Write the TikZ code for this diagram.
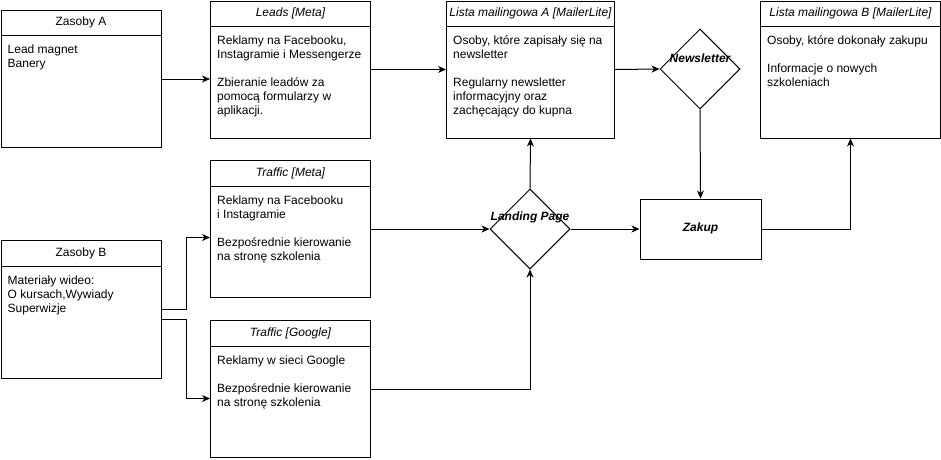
\documentclass[tikz,border=0pt]{standalone}
\usepackage{fontspec}
\setmainfont{Liberation Sans}
\usetikzlibrary{arrows.meta,shapes.geometric,calc}
\tikzset{
  boxframe/.style={draw, line width=1pt, inner sep=0pt, anchor=north west},
  bodytext/.style={anchor=north west, align=left, inner sep=0pt, font=\fontsize{12}{14}\selectfont},
  headtext/.style={anchor=center, inner sep=0pt, font=\fontsize{12}{14}\selectfont},
  dia/.style={draw, line width=1pt, shape=diamond, minimum width=80pt, minimum height=80pt, inner sep=0pt, aspect=1},
  diatext/.style={inner sep=0pt, font=\fontsize{12}{14}\selectfont\bfseries\itshape},
  conn/.style={line width=1pt, -{Stealth[length=8pt,width=7pt,inset=2.5pt]}},
}
\newcommand\swbox[8]{%
  \node[boxframe, minimum width=#4pt, minimum height=#5pt] (#1) at (#2,#3) {};
  \draw[line width=1pt] ([yshift=-#6pt]#1.north west) -- ([yshift=-#6pt]#1.north east);
  \node[headtext] (#1-t) at ([yshift={-0.5*#6pt}]#1.north) {#7};
  \node[bodytext] (#1-b) at ([xshift=7pt,yshift={-(#6pt+8pt)}]#1.north west) {\strut #8};
}
\begin{document}
\begin{tikzpicture}[x=1pt,y=-1pt]
\fill[white] (0,0) rectangle (941,459);
\useasboundingbox (0,0) rectangle (941,459);

\swbox{za}{0.5}{10}{160}{137}{25}{Zasoby A}{Lead magnet\\Banery}
\swbox{ld}{210}{0.5}{160}{137}{26}{\itshape Leads [Meta]}{Reklamy na Facebooku,\\Instagramie i Messengerze\\[14pt]Zbieranie leadów za\\pomocą formularzy w\\aplikacji.}
\swbox{la}{446}{0.5}{168}{137}{26}{\itshape Lista mailingowa A [MailerLite]}{Osoby, które zapisały się na\\newsletter\\[14pt]Regularny newsletter\\informacyjny oraz\\zachęcający do kupna}
\swbox{lb}{760}{0.5}{180}{137}{26}{\itshape Lista mailingowa B [MailerLite]}{Osoby, które dokonały zakupu\\[14pt]Informacje o nowych\\szkoleniach}
\swbox{zb}{0.5}{240}{160}{138}{26}{Zasoby B}{Materiały wideo:\\O kursach,Wywiady\\Superwizje}
\swbox{tm}{210}{160}{160}{137}{26}{\itshape Traffic [Meta]}{Reklamy na Facebooku\\i Instagramie\\[14pt]Bezpośrednie kierowanie\\na stronę szkolenia}
\swbox{tg}{210}{320}{160}{137}{26}{\itshape Traffic [Google]}{Reklamy w sieci Google\\[14pt]Bezpośrednie kierowanie\\na stronę szkolenia}

\node[dia] (nl) at (700,69) {};
\node[diatext] (nl-t) at (700,58) {Newsletter};
\node[dia] (lp) at (530,229) {};
\node[diatext] (lp-t) at (530,217) {Landing Page};
\node[draw, line width=1pt, minimum width=121pt, minimum height=60pt, inner sep=0pt] (zk) at (700.5,229) {};
\node[diatext] (zk-t) at (700.5,228) {Zakup};

\draw[conn] (za.east) -- (za.east -| ld.west);
\draw[conn] (ld.east) -- (la.west);
\draw[conn] (la.east) -- (nl.west);
\draw[conn] (nl.south) -- (zk.north);
\draw[conn] (zk.east) -| (lb.south);
\draw[conn] (lp.north) -- (la.south);
\draw[conn] (tm.east) -- (lp.west);
\draw[conn] (tg.east) -| (lp.south);
\draw[conn] (lp.east) -- (zk.west);
\draw[conn] (zb.east) -- ++(25,0) |- ([yshift=-8.5pt]tm.west);
\draw[conn] ([yshift=-10pt]zb.east) -- ++(25,0) |- ([yshift=-9.5pt]tg.west);
\end{tikzpicture}
\end{document}
